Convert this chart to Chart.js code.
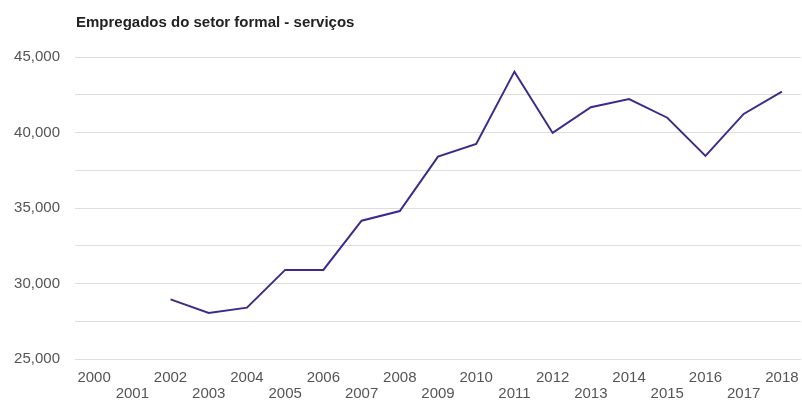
<!DOCTYPE html>
<html>
<head>
<meta charset="utf-8">
<script src="https://cdn.jsdelivr.net/npm/chart.js@4"></script>
<style>
  html, body { margin: 0; padding: 0; background: #fff; }
  #wrap { width: 802px; height: 403px; }
</style>
</head>
<body>
<div id="wrap"><canvas id="myChart"></canvas></div>
<script>
var years = ['2000', '2001', '2002', '2003', '2004', '2005', '2006', '2007', '2008', '2009',
             '2010', '2011', '2012', '2013', '2014', '2015', '2016', '2017', '2018'];
var empregados = [null, null, 28950, 28050, 28400, 30900, 30900, 34160, 34800, 38400,
                  39240, 44030, 39970, 41670, 42220, 40980, 38450, 41230, 42700];
var titulo = 'Empregados do setor formal - serviços';

// title drawn at the left edge of the plot area
var titlePlugin = {
    id: 'leftTitle',
    afterDraw: function (chart) {
        var c = chart.ctx;
        c.save();
        c.font = 'bold 15px "Liberation Sans", Arial, sans-serif';
        c.fillStyle = '#222';
        c.textBaseline = 'alphabetic';
        c.textAlign = 'left';
        c.fillText(titulo, chart.chartArea.left + 1, 27);
        c.restore();
    }
};

var ctx = document.getElementById('myChart').getContext('2d');
var myChart = new Chart(ctx, {
    type: 'line',
    data: {
        labels: years,
        datasets: [{
            label: titulo,
            data: empregados,
            borderColor: '#3f2a8c',
            borderWidth: 2,
            pointRadius: 0,
            tension: 0,
            spanGaps: false
        }]
    },
    options: {
        responsive: true,
        maintainAspectRatio: false,
        animation: false,
        layout: {
            padding: { top: 57, right: 1, bottom: 1, left: 0 }
        },
        plugins: {
            legend: { display: false },
            tooltip: { enabled: false }
        },
        scales: {
            x: {
                offset: true,
                afterFit: function (scale) {
                    scale.height = 43;
                    scale.paddingLeft = 0;
                    scale.paddingRight = 0;
                },
                grid: { display: false, drawTicks: false },
                border: { display: false },
                ticks: {
                    autoSkip: false,
                    maxRotation: 0,
                    padding: 11,
                    color: '#555',
                    font: { family: '"Liberation Sans", Arial, sans-serif', size: 15, lineHeight: 1.05 },
                    callback: function (value, index) {
                        return index % 2 ? ['', years[index]] : [years[index], ''];
                    }
                }
            },
            y: {
                min: 25000,
                max: 45000,
                afterFit: function (scale) { scale.width = 75; },
                grid: { color: '#dddddd', lineWidth: 1, drawTicks: false },
                border: { display: false },
                ticks: {
                    stepSize: 2500,
                    padding: 15,
                    color: '#555',
                    font: { family: '"Liberation Sans", Arial, sans-serif', size: 15 },
                    callback: function (value) {
                        return value % 5000 === 0 ? value.toLocaleString('en-US') : '';
                    }
                }
            }
        }
    },
    plugins: [titlePlugin]
});
</script>
</body>
</html>
